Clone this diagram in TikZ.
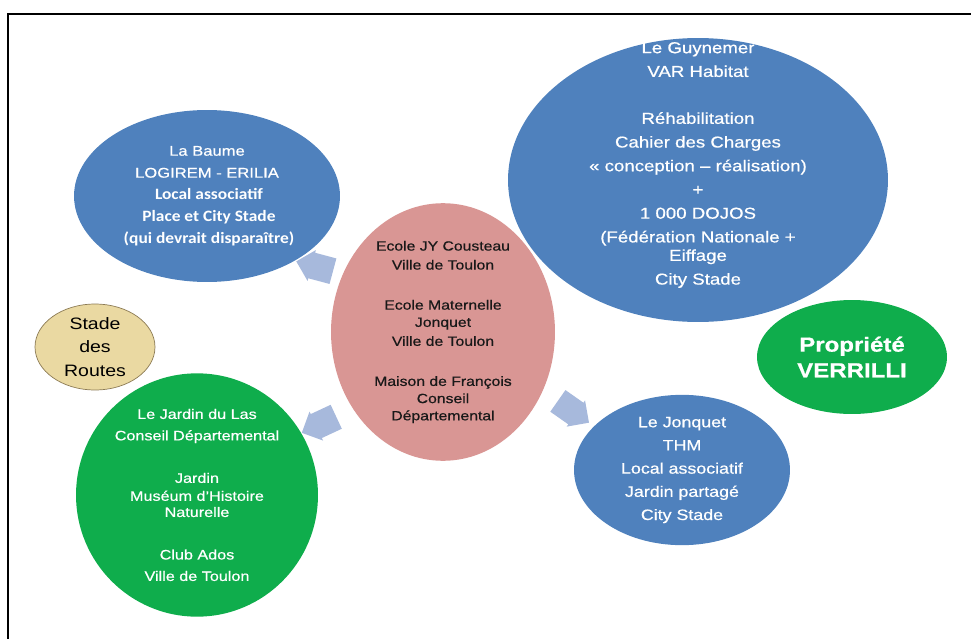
\documentclass[tikz,border=0pt]{standalone}
\usepackage{fontspec}
\setmainfont{Liberation Sans}[FakeStretch=1.18, FakeBold=0.6]
\newfontfamily\carlito{Carlito}[FakeStretch=1.1]
\newfontfamily\fine{Liberation Sans}[FakeStretch=1.18]
\usetikzlibrary{shapes.geometric, shapes.arrows}
\definecolor{bleubulle}{HTML}{4F81BD}
\definecolor{rosebulle}{HTML}{D99694}
\definecolor{vertbulle}{HTML}{0FAD4C}
\definecolor{sablebulle}{HTML}{EAD9A2}
\definecolor{sablebord}{HTML}{8C7B55}
\definecolor{bleufleche}{HTML}{A7B9DC}
\newcommand\Taille[2]{\fontsize{#1}{#2}\selectfont}

\begin{document}
\begin{tikzpicture}[x=0.02cm, y=-0.02cm,
bulle/.style={
  ellipse, inner sep=0pt,
  align=center, text=white
},
fleche/.style={
  single arrow, fill=bleufleche, draw=none,
  minimum height=0.76cm, minimum width=0.64cm,
  inner xsep=0pt, inner ysep=0.23cm,
  single arrow head extend=0.05cm
}]
\useasboundingbox (0,0) rectangle (971,639);
\draw[line width=0.8pt] (8,639) -- (8,14) -- (971,14);

% les bulles
\node (baume) [bulle, fill=bleubulle, minimum width=5.32cm, minimum height=3.44cm,
  font=\Taille{8}{12.5}] at (207,196) {
La Baume\\
LOGIREM - ERILIA\\
{\carlito\bfseries\Taille{9}{12.5} Local associatif}\\
{\carlito\bfseries\Taille{9}{12.5} Place et City Stade}\\
{\carlito\bfseries\Taille{9}{12.5} (qui devrait dispara\^itre)}};

\node (guynemer) [bulle, fill=bleubulle, minimum width=7.6cm, minimum height=5.68cm]
  at (698,180) {};
\node (guynemertxt) [align=center, text=white, font=\Taille{9}{13.5}]
  at ([yshift=0.3cm]guynemer.center) {
Le Guynemer\\
VAR Habitat\\[13.2pt]
R\'ehabilitation\\
Cahier des Charges\\
\guillemotleft{} conception -- r\'ealisation)\\
+\\
1 000 DOJOS\\
(F\'ed\'eration Nationale +\\[-3pt]
Eiffage\\
City Stade};

\node (centre) [bulle, fill=rosebulle, text=black!90, minimum width=4.48cm,
  minimum height=4.52cm, font=\Taille{7.6}{10.8}] at (443,332) {
Ecole JY Cousteau\\
Ville de Toulon\\[12pt]
Ecole Maternelle\\[-1pt]
Jonquet\\
Ville de Toulon\\[12pt]
Maison de Fran\c{c}ois\\[-1pt]
Conseil\\[-1pt]
D\'epartemental};

\node (jardin) [bulle, fill=vertbulle, minimum width=4.84cm, minimum height=4.0cm,
  font=\Taille{7.8}{12.2}] at (197,495) {
Le Jardin du Las\\
Conseil D\'epartemental\\[12pt]
Jardin\\[-2pt]
Mus\'eum d'Histoire\\[-3pt]
Naturelle\\[12pt]
Club Ados\\
Ville de Toulon};

\node (jonquet) [bulle, fill=bleubulle, minimum width=4.32cm, minimum height=2.68cm,
  font=\Taille{8.6}{13.2}] at (682,470) {
Le Jonquet\\
THM\\
Local associatif\\
Jardin partag\'e\\
City Stade};

\node (stade) [bulle, fill=sablebulle, draw=sablebord, thin, text=black,
  minimum width=2.4cm, minimum height=1.72cm, font=\fine\Taille{9.4}{13.4}]
  at (95,347) {Stade\\des\\Routes};

\node (verrilli) [bulle, fill=vertbulle, minimum width=3.8cm, minimum height=2.28cm,
  font=\Taille{11.6}{14.6}\bfseries] at (852,357) {Propri\'et\'e\\VERRILLI};

% les fleches
\node (flechebaume) [fleche, rotate=165] at (321,268) {};
\node (flechejardin) [fleche, rotate=205] at (325,422) {};
\node (flechejonquet) [fleche, rotate=-35] at (568,408) {};
\end{tikzpicture}
\end{document}
